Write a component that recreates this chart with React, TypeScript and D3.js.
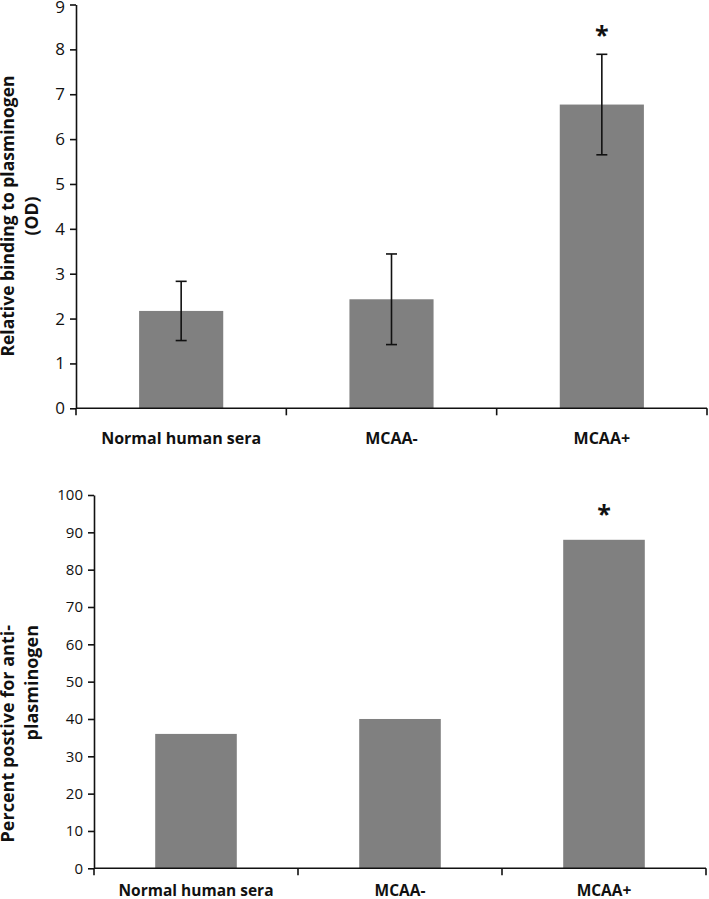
import * as d3 from "d3";
import { useEffect, useRef } from "react";

const categories = ["Normal human sera", "MCAA-", "MCAA+"];

// top panel: relative binding (OD), mean and error bar half-width
const bindingMeans = [2.17, 2.43, 6.77];
const bindingErrors = [0.66, 1.01, 1.12];
const bindingTicks = [0, 1, 2, 3, 4, 5, 6, 7, 8, 9];

// bottom panel: percent positive
const percentPositive = [36, 40, 88];
const percentTicks = [0, 10, 20, 30, 40, 50, 60, 70, 80, 90, 100];

// which groups carry the significance star
const significant = [false, false, true];

const FONT = "'Open Sans', Lato, sans-serif";
const BAR = "#808080";

interface PanelOpts {
  left: number;
  right: number;
  top: number;
  bottom: number;
  ticks: number[];
  values: number[];
  errors?: number[];
  tickFont: number;
  labelFont: number;
  labelGap: number;
  starGap: number;
  titleFont: number;
  titleLines: string[];
  titleAnchor: "middle" | "end";
  titleY: number;
}

function drawPanel(
  svg: d3.Selection<SVGSVGElement, unknown, null, undefined>,
  o: PanelOpts
) {
  const g = svg.append("g");

  const x = d3.scaleBand<string>().domain(categories).range([o.left, o.right]).padding(0);
  const y = d3
    .scaleLinear()
    .domain([0, d3.max(o.ticks)!])
    .range([o.bottom, o.top]);

  const barW = x.bandwidth() * 0.4;
  const cx = (i: number) => x(categories[i])! + x.bandwidth() / 2;

  // bars
  g.selectAll(".bar")
    .data(o.values)
    .enter()
    .append("rect")
    .attr("x", (d, i) => cx(i) - barW / 2)
    .attr("y", (d) => y(d))
    .attr("width", barW)
    .attr("height", (d) => y(0) - y(d))
    .attr("fill", BAR);

  // error bars
  if (o.errors) {
    const errs = o.errors;
    const eg = g
      .selectAll(".err")
      .data(o.values)
      .enter()
      .append("g")
      .attr("stroke", "#111")
      .attr("stroke-width", 1.6);
    eg.append("line")
      .attr("x1", (d, i) => cx(i))
      .attr("x2", (d, i) => cx(i))
      .attr("y1", (d, i) => y(d + errs[i]))
      .attr("y2", (d, i) => y(d - errs[i]));
    eg.append("line")
      .attr("x1", (d, i) => cx(i) - 5.5)
      .attr("x2", (d, i) => cx(i) + 5.5)
      .attr("y1", (d, i) => y(d + errs[i]))
      .attr("y2", (d, i) => y(d + errs[i]));
    eg.append("line")
      .attr("x1", (d, i) => cx(i) - 5.5)
      .attr("x2", (d, i) => cx(i) + 5.5)
      .attr("y1", (d, i) => y(d - errs[i]))
      .attr("y2", (d, i) => y(d - errs[i]));
  }

  // significance stars
  const starIdx = o.values.map((d, i) => i).filter((i) => significant[i]);
  g.selectAll(".star")
    .data(starIdx)
    .enter()
    .append("text")
    .attr("x", (i) => cx(i))
    .attr("y", (i) => {
      const topVal = o.errors ? o.values[i] + o.errors[i] : o.values[i];
      return y(topVal) - o.starGap;
    })
    .attr("text-anchor", "middle")
    .attr("fill", "#111")
    .style("font-family", FONT)
    .style("font-weight", "bold")
    .style("font-size", "25px")
    .text("*");

  // y axis
  const yAxis = g
    .append("g")
    .attr("transform", `translate(${o.left},0)`)
    .call(
      d3
        .axisLeft(y)
        .tickValues(o.ticks)
        .tickSize(6)
        .tickSizeOuter(0)
        .tickPadding(5)
        .tickFormat(d3.format("d"))
    );
  yAxis.selectAll("path, line").attr("stroke", "#111").attr("stroke-width", 1.6);
  yAxis
    .selectAll<SVGTextElement, number>("text")
    .attr("fill", "#111")
    .style("font-family", FONT)
    .style("font-size", `${o.tickFont}px`)
    // keep the top label inside the picture
    .attr("y", (d) => Math.max(0, o.tickFont * 0.42 - y(d)));

  // x axis line + category boundary ticks
  g.append("line")
    .attr("x1", o.left)
    .attr("x2", o.right)
    .attr("y1", y(0))
    .attr("y2", y(0))
    .attr("stroke", "#111")
    .attr("stroke-width", 1.6);
  const bounds = [...categories.map((c) => x(c)!), o.right];
  g.selectAll(".xtick")
    .data(bounds)
    .enter()
    .append("line")
    .attr("x1", (d) => d)
    .attr("x2", (d) => d)
    .attr("y1", y(0))
    .attr("y2", y(0) + 7)
    .attr("stroke", "#111")
    .attr("stroke-width", 1.6);

  // category labels
  g.selectAll(".xlab")
    .data(categories)
    .enter()
    .append("text")
    .attr("x", (d) => x(d)! + x.bandwidth() / 2)
    .attr("y", y(0) + o.labelGap)
    .attr("text-anchor", "middle")
    .attr("fill", "#111")
    .style("font-family", FONT)
    .style("font-weight", "bold")
    .style("font-size", `${o.labelFont}px`)
    .text((d) => d);

  // y title, two lines
  o.titleLines.forEach((line, i) => {
    g.append("text")
      .attr("transform", `translate(${14 + i * 24},${o.titleY}) rotate(-90)`)
      .attr("text-anchor", o.titleAnchor)
      .attr("fill", "#111")
      .style("font-family", FONT)
      .style("font-weight", "bold")
      .style("font-size", `${o.titleFont}px`)
      .text(line);
  });
}

export default function App() {
  const ref = useRef<SVGSVGElement>(null);

  useEffect(() => {
    if (!ref.current) return;
    const svg = d3.select(ref.current);
    svg.selectAll("*").remove();

    drawPanel(svg, {
      left: 76,
      right: 707,
      top: 4.5,
      bottom: 408.3,
      ticks: bindingTicks,
      values: bindingMeans,
      errors: bindingErrors,
      tickFont: 17,
      labelFont: 16,
      labelGap: 36,
      starGap: 10,
      titleFont: 17.5,
      titleLines: ["Relative binding to plasminogen", "(OD)"],
      titleAnchor: "middle",
      titleY: 216,
    });

    drawPanel(svg, {
      left: 94,
      right: 706,
      top: 495,
      bottom: 868.3,
      ticks: percentTicks,
      values: percentPositive,
      tickFont: 15,
      labelFont: 15.5,
      labelGap: 28,
      starGap: 17,
      titleFont: 18,
      titleLines: ["Percent postive for anti-", "plasminogen"],
      titleAnchor: "end",
      titleY: 625,
    });

    return () => {
      svg.selectAll("*").remove();
    };
  }, []);

  return (
    <div style={{ position: "absolute", left: 0, top: 0 }}>
      <svg ref={ref} width={709} height={899} style={{ display: "block", background: "#fff" }} />
    </div>
  );
}
